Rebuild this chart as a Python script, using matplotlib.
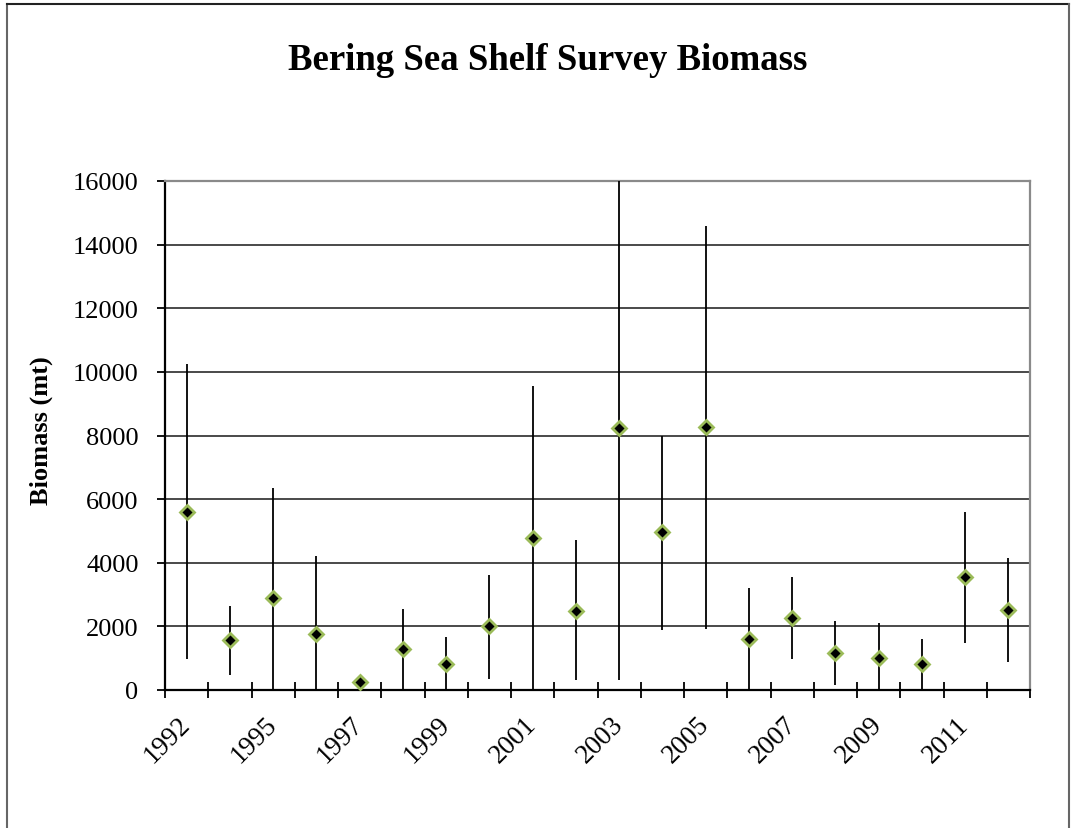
import numpy as np
import matplotlib
matplotlib.use('Agg')
import matplotlib.pyplot as plt
from matplotlib.lines import Line2D

plt.rcParams['font.family'] = ['Liberation Serif', 'DejaVu Serif']

# survey years (one point per survey)
years = [1992, 1994, 1995, 1996, 1997, 1998, 1999, 2000, 2001, 2002,
         2003, 2004, 2005, 2006, 2007, 2008, 2009, 2010, 2011, 2012]
biomass = [5590, 1560, 2900, 1770, 240, 1290, 805, 2010, 4790, 2480,
           8230, 4960, 8260, 1600, 2250, 1160, 995, 805, 3540, 2530]
ci_low = [980, 480, 0, 0, 120, 0, 0, 355, 0, 325,
          325, 1900, 1930, 0, 975, 155, 0, 0, 1465, 890]
ci_high = [10250, 2640, 6350, 4210, 380, 2555, 1665, 3630, 9570, 4700,
           16000, 8000, 14600, 3205, 3560, 2155, 2115, 1590, 5610, 4155]
label_years = ['1992', '1995', '1997', '1999', '2001', '2003', '2005', '2007', '2009', '2011']
y_ticks = [0, 2000, 4000, 6000, 8000, 10000, 12000, 14000, 16000]

fig = plt.figure(figsize=(10.74, 8.29), dpi=100)
ax = fig.add_axes([165 / 1074, 1 - 691 / 829, 865 / 1074, 509 / 829])

x = np.arange(len(years))
ax.vlines(x, ci_low, ci_high, color='black', lw=1.3, zorder=3)
ax.plot(x, biomass, linestyle='none', marker='D', markersize=7.5,
        markerfacecolor='black', markeredgecolor='#9BBB59', markeredgewidth=2.0, zorder=4)

ax.set_xlim(-0.5, len(years) - 0.5)
ax.set_ylim(0, 16000)

# horizontal gridlines
ax.set_yticks(y_ticks)
ax.set_yticklabels([str(v) for v in y_ticks], fontsize=19)
ax.yaxis.grid(True, color='#3a3a3a', lw=1.3)
ax.set_axisbelow(True)
ax.tick_params(axis='y', direction='out', length=6, width=1.3, pad=13, color='black')

# category boundaries as major ticks, year labels every other category
ax.set_xticks(np.arange(len(years) + 1) - 0.5)
ax.set_xticklabels([])
ax.tick_params(axis='x', which='major', direction='inout', length=12, width=1.3, color='black')
ax.set_xticks(x[::2], minor=True)
ax.set_xticklabels(label_years, minor=True, fontsize=19.5, rotation=45,
                   ha='right', va='center', rotation_mode='anchor')
ax.tick_params(axis='x', which='minor', length=0, pad=22)

for side in ['top', 'right']:
    ax.spines[side].set_color('#8a8a8a')
    ax.spines[side].set_linewidth(1.6)
for side in ['left', 'bottom']:
    ax.spines[side].set_color('black')
    ax.spines[side].set_linewidth(1.6)

ax.set_ylabel('Biomass (mt)', fontsize=19, fontweight='bold')
ax.yaxis.set_label_coords(-0.13, 0.512)
fig.text(548 / 1074, 1 - 60 / 829, 'Bering Sea Shelf Survey Biomass',
         ha='center', va='center', fontsize=26.5, fontweight='bold')

# chart frame
fig.add_artist(Line2D([6.5 / 1074, 6.5 / 1074], [-0.01, 1 - 4.5 / 829], transform=fig.transFigure,
                      color='#666666', lw=1.5))
fig.add_artist(Line2D([6.5 / 1074, 1068.5 / 1074], [1 - 4.5 / 829, 1 - 4.5 / 829],
                      transform=fig.transFigure, color='#222222', lw=1.5))
fig.add_artist(Line2D([1068.5 / 1074, 1068.5 / 1074], [-0.01, 1 - 4.5 / 829],
                      transform=fig.transFigure, color='#666666', lw=1.5))

fig.savefig('out.png', dpi=100)
